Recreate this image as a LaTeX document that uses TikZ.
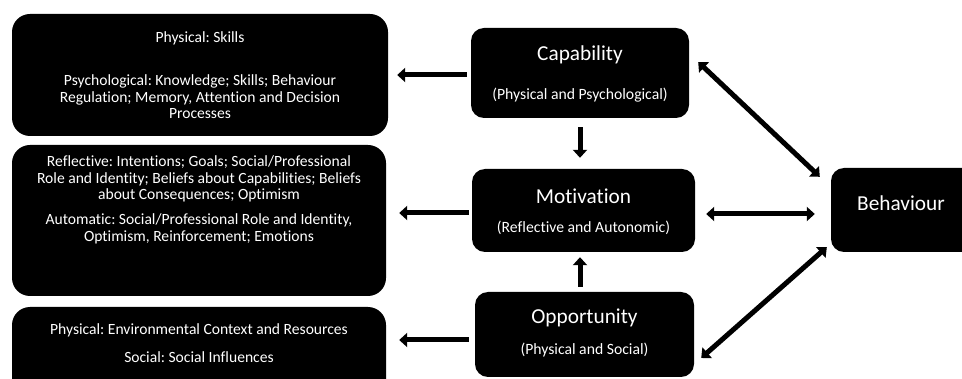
\documentclass[tikz,border=0pt]{standalone}
\usepackage{fontspec}
\setmainfont{Carlito}[Ligatures={NoCommon}]
\frenchspacing
\usetikzlibrary{arrows.meta}
\begin{document}
\begin{tikzpicture}[x=1pt,y=-1pt,
  detbox/.style={fill=black, rounded corners=18pt, inner sep=0pt},
  cbox/.style={fill=black, rounded corners=13pt, inner sep=0pt},
  ttl/.style={text=white, font=\fontsize{21.3}{25}\selectfont, inner sep=0pt},
  subt/.style={text=white, font=\fontsize{15.7}{18}\selectfont, inner sep=0pt},
  det/.style={text=white, font=\fontsize{15.6}{16.6}\selectfont, align=center, inner sep=0pt},
  arr/.style={line width=5pt, -{Triangle[length=8pt,width=14pt]}},
  darr/.style={line width=5pt, {Triangle[length=8pt,width=14pt]}-{Triangle[length=8pt,width=14pt]}}]
\useasboundingbox (0,0) rectangle (962,379);

% detail boxes
\node[detbox, minimum width=376pt, minimum height=122pt] (d1) at (200,75) {};
\node[detbox, minimum width=374pt, minimum height=151pt] (d2) at (199,220.5) {};
\node[detbox, minimum width=374pt, minimum height=93pt] (d3) at (199,353.5) {};

% central boxes
\node[cbox, minimum width=218pt, minimum height=90pt] (cap) at (580,73) {};
\node[cbox, minimum width=223pt, minimum height=83pt] (mot) at (583.5,210.5) {};
\node[cbox, minimum width=219pt, minimum height=85pt] (opp) at (584.5,334.5) {};
\node[cbox, minimum width=149pt, minimum height=84pt] (beh) at (905.5,210) {};

% texts of detail boxes
\node[det] (t1a) at (200,38) {Physical: Skills};
\node[det] (t1b) at (200,97) {Psychological: Knowledge; Skills; Behaviour\\Regulation; Memory, Attention and Decision\\Processes};
\node[det] (t2a) at (199,179) {Reflective: Intentions; Goals; Social/Professional\\Role and Identity; Beliefs about Capabilities; Beliefs\\about Consequences; Optimism};
\node[det] (t2b) at (199,229) {Automatic: Social/Professional Role and Identity,\\Optimism, Reinforcement; Emotions};
\node[det] (t3a) at (199,330) {Physical: Environmental Context and Resources};
\node[det] (t3b) at (199,357) {Social: Social Influences};

% texts of central boxes
\node[ttl] (capt) at (580,55) {Capability};
\node[subt] (caps) at (580,95) {(Physical and Psychological)};
\node[ttl] (mott) at (583.5,196) {Motivation};
\node[subt] (mots) at (583.5,228) {(Reflective and Autonomic)};
\node[ttl] (oppt) at (584.5,318) {Opportunity};
\node[subt] (opps) at (584.5,350) {(Physical and Social)};
\node[ttl] (beht) at (901,203) {Behaviour};

% arrows to detail boxes
\draw[arr, shorten <=4pt, shorten >=9pt] ([yshift=-2pt]cap.west) -- ([yshift=-2pt]cap.west -| d1.east);
\draw[arr, shorten <=3pt, shorten >=13pt] ([yshift=-2.5pt]mot.west) -- ([yshift=-2.5pt]mot.west -| d2.east);
\draw[arr, shorten <=6pt, shorten >=13pt] ([yshift=-5.5pt]opp.west) -- ([yshift=-5.5pt]opp.west -| d3.east);

% vertical arrows
\draw[arr, shorten <=9pt, shorten >=11pt] (cap.south) -- (cap.south |- mot.north);
\draw[arr, shorten <=5pt, shorten >=5pt] (opp.north -| cap.south) -- (mot.south -| cap.south);

% double arrows to behaviour
\draw[darr] ([xshift=9pt,yshift=11pt]cap.east) -- ([xshift=-11pt,yshift=-9pt]beh.north west);
\draw[darr, shorten <=11pt, shorten >=16pt] ([yshift=-3.5pt]mot.east) -- ([yshift=-3.5pt]mot.east -| beh.west);
\draw[darr] ([xshift=-4pt,yshift=5pt]beh.south west) -- ([xshift=7pt,yshift=-23.5pt]opp.east);
\end{tikzpicture}
\end{document}
